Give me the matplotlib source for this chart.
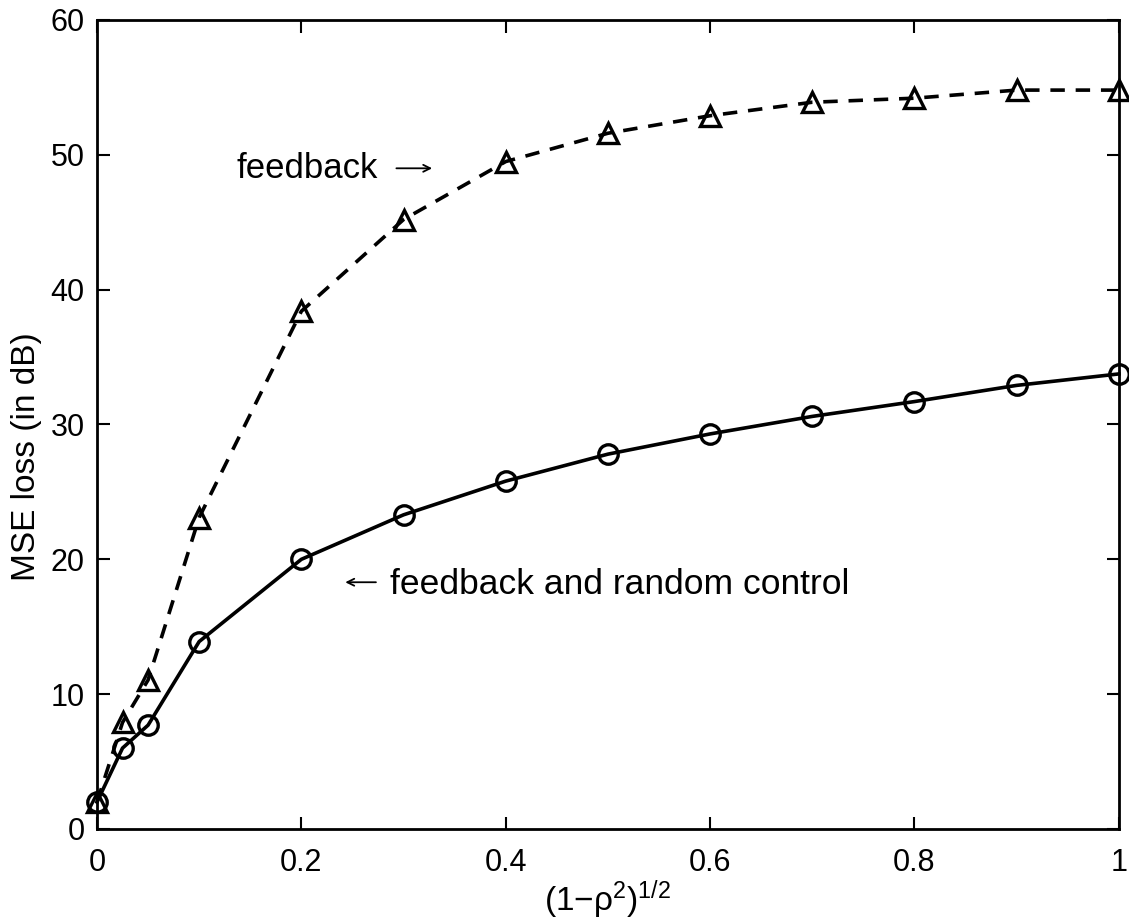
import matplotlib
matplotlib.use("Agg")
import matplotlib.pyplot as plt

x = [0, 0.025, 0.05, 0.1, 0.2, 0.3, 0.4, 0.5, 0.6, 0.7, 0.8, 0.9, 1.0]
feedback_random = [2.0, 6.0, 7.7, 13.9, 20.0, 23.3, 25.8, 27.8, 29.3, 30.6, 31.7, 32.9, 33.75]
feedback = [2.0, 7.9, 11.05, 23.1, 38.4, 45.2, 49.5, 51.6, 52.9, 53.9, 54.2, 54.8, 54.8]
xticks = [0, 0.2, 0.4, 0.6, 0.8, 1]
xticklabels = ["0", "0.2", "0.4", "0.6", "0.8", "1"]
yticks = [0, 10, 20, 30, 40, 50, 60]

plt.rcParams['font.family'] = ['Liberation Sans', 'DejaVu Sans']
plt.rcParams['mathtext.fontset'] = 'custom'
plt.rcParams['mathtext.rm'] = 'Liberation Sans'
plt.rcParams['mathtext.it'] = 'Liberation Sans'
plt.rcParams['mathtext.bf'] = 'Liberation Sans:bold'

fig = plt.figure(figsize=(11.29, 9.21), dpi=100)
ax = fig.add_axes([0.0859, 0.0999, 0.9051, 0.8784])

ax.plot(x, feedback, color='black', linestyle=(0, (4, 3)), linewidth=2.6,
        marker='^', markersize=15, markerfacecolor='none', markeredgewidth=2.4,
        clip_on=False, zorder=3)
ax.plot(x, feedback_random, color='black', linestyle='-', linewidth=2.6,
        marker='o', markersize=14, markerfacecolor='none', markeredgewidth=2.4,
        clip_on=False, zorder=3)

ax.set_xlim(0, 1)
ax.set_ylim(0, 60)
ax.set_xticks(xticks)
ax.set_xticklabels(xticklabels)
ax.set_yticks(yticks)
ax.tick_params(direction='in', top=True, right=True, length=9, width=1.5,
               labelsize=22)
ax.tick_params(axis='x', pad=14)
ax.tick_params(axis='y', pad=9)
for s in ax.spines.values():
    s.set_linewidth(2)

ax.set_xlabel("(1\u2212\u03c1$^2$)$^{1/2}$", fontsize=24, labelpad=0)
ax.set_ylabel("MSE loss (in dB)", fontsize=24)
ax.yaxis.set_label_coords(-0.054, 0.46)

ax.text(0.137, 49.0, "feedback", fontsize=25, va='center', ha='left')
ax.annotate('', xy=(0.328, 49.0), xytext=(0.293, 49.0),
            arrowprops=dict(arrowstyle='->,head_length=0.5,head_width=0.25', lw=1.3, color='black',
                            shrinkA=0, shrinkB=0))
ax.text(0.287, 18.1, "feedback and random control", fontsize=25.5, va='center', ha='left')
ax.annotate('', xy=(0.243, 18.3), xytext=(0.273, 18.3),
            arrowprops=dict(arrowstyle='->,head_length=0.5,head_width=0.25', lw=1.3, color='black',
                            shrinkA=0, shrinkB=0))

fig.savefig("out.png", dpi=100)
